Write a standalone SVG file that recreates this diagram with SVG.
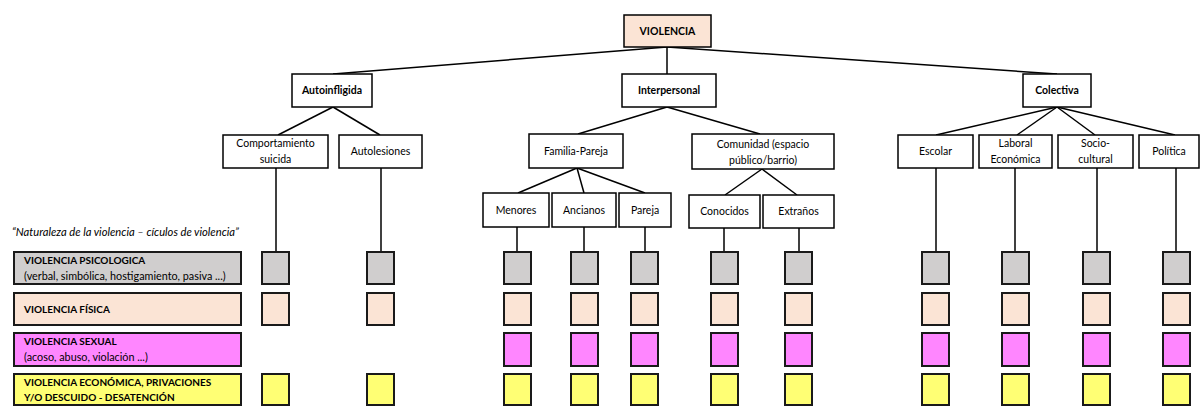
<svg xmlns="http://www.w3.org/2000/svg" width="1202" height="406" viewBox="0 0 1202 406">
<style>
text{font-family:Lato,"Open Sans","Liberation Sans",sans-serif;fill:#000}
.n{fill:#fff;stroke:#000;stroke-width:1.5}
.t{font-size:10.5px;text-anchor:middle}
.b{font-weight:bold}
.c line{stroke:#000;stroke-width:1.5}
.sq{stroke:#1a1a1a;stroke-width:2}
.g{fill:#D0CECE}.p{fill:#FBE4D5}.m{fill:#FF86FF}.y{fill:#FFFF74}
.lg{font-size:10.8px}
.lgb{font-size:10px;font-weight:bold}
</style>
<rect width="1202" height="406" fill="#fff"/>
<g id="connectors" class="c">
<line x1="667" y1="47" x2="333" y2="74"/>
<line x1="667" y1="47" x2="667" y2="74"/>
<line x1="667" y1="47" x2="1057" y2="74"/>
<line x1="333" y1="107" x2="278" y2="135"/>
<line x1="333" y1="107" x2="380" y2="135"/>
<line x1="667" y1="107" x2="578" y2="134"/>
<line x1="667" y1="107" x2="760" y2="134"/>
<line x1="577" y1="168" x2="518" y2="193"/>
<line x1="577" y1="168" x2="584" y2="193"/>
<line x1="577" y1="168" x2="645" y2="193"/>
<line x1="762" y1="169" x2="725" y2="195"/>
<line x1="762" y1="169" x2="797" y2="195"/>
<line x1="1057" y1="107" x2="936" y2="135"/>
<line x1="1057" y1="107" x2="1017" y2="135"/>
<line x1="1057" y1="107" x2="1095" y2="135"/>
<line x1="1057" y1="107" x2="1175" y2="135"/>
<line x1="276" y1="168" x2="276" y2="252"/>
<line x1="381" y1="168" x2="381" y2="252"/>
<line x1="517" y1="227" x2="517" y2="252"/>
<line x1="584" y1="227" x2="584" y2="252"/>
<line x1="645" y1="227" x2="645" y2="252"/>
<line x1="724" y1="228" x2="724" y2="252"/>
<line x1="799" y1="228" x2="799" y2="252"/>
<line x1="936" y1="168" x2="936" y2="252"/>
<line x1="1015" y1="168" x2="1015" y2="252"/>
<line x1="1097" y1="168" x2="1097" y2="252"/>
<line x1="1176" y1="168" x2="1176" y2="252"/>
</g>
<g id="violencia"><rect class="n" x="624" y="15" width="87" height="32" style="fill:#FBE4D5"/><text class="t b" x="667.5" y="35">VIOLENCIA</text></g>
<g id="autoinfligida"><rect class="n" x="292" y="74" width="80" height="33"/><text class="t b" x="332" y="94">Autoinfligida</text></g>
<g id="interpersonal"><rect class="n" x="622" y="74" width="94" height="33"/><text class="t b" x="669" y="94">Interpersonal</text></g>
<g id="colectiva"><rect class="n" x="1023" y="74" width="68" height="33"/><text class="t b" x="1057" y="94">Colectiva</text></g>
<g id="comportamiento"><rect class="n" x="223" y="135" width="105" height="33"/><text class="t" x="275.5" y="147">Comportamiento</text><text class="t" x="275.5" y="163">suicida</text></g>
<g id="autolesiones"><rect class="n" x="339" y="135" width="83" height="33"/><text class="t" x="380.5" y="155">Autolesiones</text></g>
<g id="familia"><rect class="n" x="529" y="134" width="94" height="34"/><text class="t" x="576" y="155">Familia-Pareja</text></g>
<g id="comunidad"><rect class="n" x="692" y="134" width="142" height="35"/><text class="t" x="763" y="148">Comunidad (espacio</text><text class="t" x="763" y="164">público/barrio)</text></g>
<g id="menores"><rect class="n" x="483" y="193" width="66" height="34"/><text class="t" x="516" y="214">Menores</text></g>
<g id="ancianos"><rect class="n" x="552" y="193" width="64" height="34"/><text class="t" x="584" y="214">Ancianos</text></g>
<g id="pareja"><rect class="n" x="619" y="193" width="52" height="34"/><text class="t" x="645" y="214">Pareja</text></g>
<g id="conocidos"><rect class="n" x="689" y="195" width="71" height="33"/><text class="t" x="724.5" y="215">Conocidos</text></g>
<g id="extranos"><rect class="n" x="763" y="195" width="71" height="33"/><text class="t" x="798.5" y="215">Extraños</text></g>
<g id="escolar"><rect class="n" x="898" y="135" width="75" height="33"/><text class="t" x="935.5" y="155">Escolar</text></g>
<g id="laboral"><rect class="n" x="979" y="135" width="73" height="33"/><text class="t" x="1015.5" y="147">Laboral</text><text class="t" x="1015.5" y="163">Económica</text></g>
<g id="socio"><rect class="n" x="1058" y="135" width="75" height="33"/><text class="t" x="1095.5" y="147">Socio-</text><text class="t" x="1095.5" y="163">cultural</text></g>
<g id="politica"><rect class="n" x="1139" y="135" width="60" height="33"/><text class="t" x="1169" y="155">Política</text></g>
<g id="legend">
<text x="12" y="236" style="font-size:11.2px;font-style:italic">“Naturaleza de la violencia – cículos de violencia”</text>
<rect class="sq g" x="14" y="252" width="227" height="32"/>
<text class="lgb" x="24" y="264">VIOLENCIA PSICOLOGICA</text>
<text class="lg" x="24" y="280">(verbal, simbólica, hostigamiento, pasiva ...)</text>
<rect class="sq p" x="14" y="293" width="227" height="32"/>
<text class="lgb" x="24" y="313">VIOLENCIA FÍSICA</text>
<rect class="sq m" x="14" y="333" width="227" height="33"/>
<text class="lgb" x="24" y="345">VIOLENCIA SEXUAL</text>
<text class="lg" x="24" y="361">(acoso, abuso, violación ...)</text>
<rect class="sq y" x="14" y="374" width="227" height="31"/>
<text class="lgb" x="24" y="386">VIOLENCIA ECONÓMICA, PRIVACIONES</text>
<text class="lgb" x="24" y="401">Y/O DESCUIDO - DESATENCIÓN</text>
</g>
<g id="cells">
<g class="sq g">
<rect x="262" y="252" width="27" height="32"/><rect x="367" y="252" width="27" height="32"/>
<rect x="504" y="252" width="27" height="32"/><rect x="571" y="252" width="27" height="32"/><rect x="631" y="252" width="27" height="32"/><rect x="711" y="252" width="27" height="32"/><rect x="785" y="252" width="27" height="32"/>
<rect x="922" y="252" width="27" height="32"/><rect x="1002" y="252" width="27" height="32"/><rect x="1083" y="252" width="27" height="32"/><rect x="1163" y="252" width="27" height="32"/>
</g>
<g class="sq p">
<rect x="262" y="293" width="27" height="32"/><rect x="367" y="293" width="27" height="32"/>
<rect x="504" y="293" width="27" height="32"/><rect x="571" y="293" width="27" height="32"/><rect x="631" y="293" width="27" height="32"/><rect x="711" y="293" width="27" height="32"/><rect x="785" y="293" width="27" height="32"/>
<rect x="922" y="293" width="27" height="32"/><rect x="1002" y="293" width="27" height="32"/><rect x="1083" y="293" width="27" height="32"/><rect x="1163" y="293" width="27" height="32"/>
</g>
<g class="sq m">
<rect x="504" y="333" width="27" height="33"/><rect x="571" y="333" width="27" height="33"/><rect x="631" y="333" width="27" height="33"/><rect x="711" y="333" width="27" height="33"/><rect x="785" y="333" width="27" height="33"/>
<rect x="922" y="333" width="27" height="33"/><rect x="1002" y="333" width="27" height="33"/><rect x="1083" y="333" width="27" height="33"/><rect x="1163" y="333" width="27" height="33"/>
</g>
<g class="sq y">
<rect x="262" y="374" width="27" height="31"/><rect x="367" y="374" width="27" height="31"/>
<rect x="504" y="374" width="27" height="31"/><rect x="571" y="374" width="27" height="31"/><rect x="631" y="374" width="27" height="31"/><rect x="711" y="374" width="27" height="31"/><rect x="785" y="374" width="27" height="31"/>
<rect x="922" y="374" width="27" height="31"/><rect x="1002" y="374" width="27" height="31"/><rect x="1083" y="374" width="27" height="31"/><rect x="1163" y="374" width="27" height="31"/>
</g>
</g>
</svg>
